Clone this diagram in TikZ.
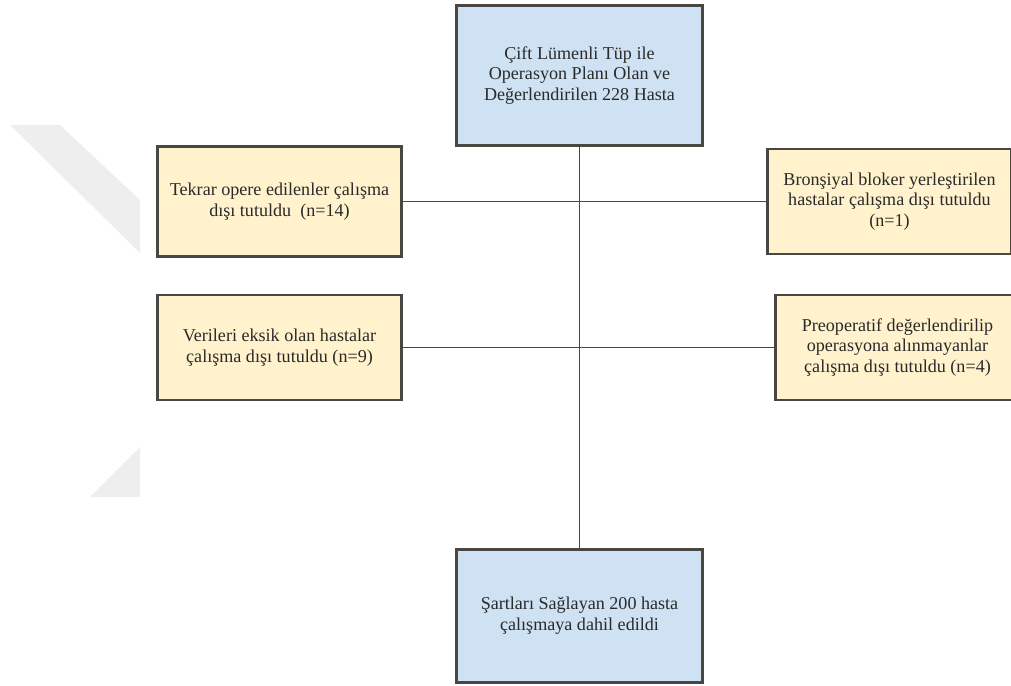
\documentclass[tikz,border=0pt]{standalone}
\usepackage{fontspec}
\setmainfont{Liberation Serif}
\usepackage{xcolor}
\usetikzlibrary{positioning}

\definecolor{boxblue}{HTML}{CFE2F3}
\definecolor{boxyellow}{HTML}{FFF2CC}
\definecolor{edgegray}{HTML}{4A4642}
\definecolor{textgray}{HTML}{2A2A2A}
\definecolor{markgray}{HTML}{EEEEEE}

\begin{document}
\begin{tikzpicture}[
    x=0.02cm, y=-0.02cm,
    bluebox/.style={rectangle, draw=edgegray, line width=1.2pt, fill=boxblue, text=textgray, minimum width=4.92cm, align=center, font=\fontsize{10.3}{11.8}\selectfont},
    yellowbox/.style={rectangle, draw=edgegray, line width=1.2pt, fill=boxyellow, text=textgray, minimum width=4.88cm, align=center, font=\fontsize{10.3}{11.8}\selectfont},
    line/.style={draw=edgegray, line width=0.9pt}
]
    \useasboundingbox (0,0) rectangle (1011,686);

    % faint watermark
    \fill[markgray] (10,125) -- (60,125) -- (140,200) -- (140,253) -- cycle;
    \fill[markgray] (140,447) -- (140,497) -- (90,497) -- cycle;

    \node (total) [bluebox, minimum height=2.8cm] at (579.5,75.5) {Çift Lümenli Tüp ile\\Operasyon Planı Olan ve\\Değerlendirilen 228 Hasta};
    \node (reop) [yellowbox, minimum height=2.2cm] at (279.5,201.5) {Tekrar opere edilenler çalışma\\dışı tutuldu~~(n=14)};
    \node (bronc) [yellowbox, minimum height=2.1cm] at (889.5,201.5) {Bronşiyal bloker yerleştirilen\\hastalar çalışma dışı tutuldu\\(n=1)};
    \node (missing) [yellowbox, minimum height=2.1cm] at (279.5,347.5) {Verileri eksik olan hastalar\\çalışma dışı tutuldu (n=9)};
    \node (preop) [yellowbox, minimum height=2.1cm] at (897.5,347.5) {Preoperatif değerlendirilip\\operasyona alınmayanlar\\çalışma dışı tutuldu (n=4)};
    \node (incl) [bluebox, minimum height=2.66cm] at (579.5,616) {Şartları Sağlayan 200 hasta\\çalışmaya dahil edildi};

    \draw [line] (total) -- (incl);
    \draw [line] (reop) -- (bronc);
    \draw [line] (missing) -- (preop);
\end{tikzpicture}
\end{document}
